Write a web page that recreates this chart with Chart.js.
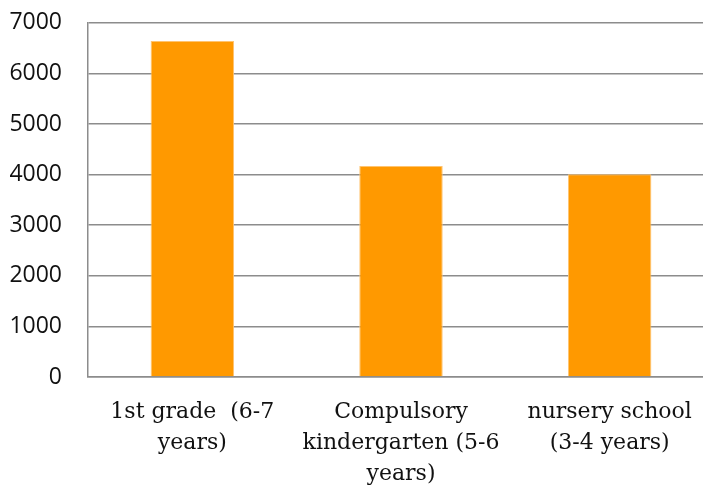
<!DOCTYPE html>
<html>
<head>
<meta charset="utf-8">
<script src="https://cdn.jsdelivr.net/npm/chart.js@4/dist/chart.umd.min.js"></script>
<style>
  html, body { margin: 0; padding: 0; background: #fff; overflow: hidden; }
  #wrap { width: 714px; height: 504px; margin-top: -17px; }
</style>
</head>
<body>
<div id="wrap"><canvas id="myChart"></canvas></div>
<script>
const categories = [
  ['1st grade  (6-7', 'years)'],
  ['Compulsory', 'kindergarten (5-6', 'years)'],
  ['nursery school', '(3-4 years)'],
];
const values = [6640, 4170, 4005];
const yTicks = [0, 1000, 2000, 3000, 4000, 5000, 6000, 7000];

const ctx = document.getElementById('myChart').getContext('2d');
const chart = new Chart(ctx, {
  type: 'bar',
  data: {
    labels: categories,
    datasets: [{
      label: '',
      data: values,
      backgroundColor: '#FF9900',
      borderColor: '#FFC470',
      borderWidth: 1,
      barPercentage: 0.4,
      categoryPercentage: 1,
    }]
  },
  options: {
    responsive: true,
    maintainAspectRatio: false,
    animation: false,
    layout: { padding: 0 },
    plugins: {
      legend: { display: false },
      tooltip: { enabled: false },
    },
    scales: {
      x: {
        grid: { display: false },
        border: { display: true, color: '#8c8c8c', width: 1.5 },
        ticks: {
          color: '#111',
          font: { family: 'DejaVu Serif', size: 22, lineHeight: 1.4 },
          padding: 12,
          maxRotation: 0,
          autoSkip: false,
        },
        afterFit: (scale) => { scale.height = 110; },
      },
      y: {
        min: 0,
        max: 7000,
        afterBuildTicks: (scale) => { scale.ticks = yTicks.map(v => ({ value: v })); },
        grid: { color: '#8c8c8c', lineWidth: 1.5, drawTicks: false },
        border: { display: true, color: '#8c8c8c', width: 1.5 },
        ticks: {
          color: '#111',
          font: { family: 'Open Sans', size: 23 },
          padding: 26,
          callback: (v) => String(v),
        },
        afterFit: (scale) => { scale.width = 88; },
      },
    },
  },
});
</script>
</body>
</html>
